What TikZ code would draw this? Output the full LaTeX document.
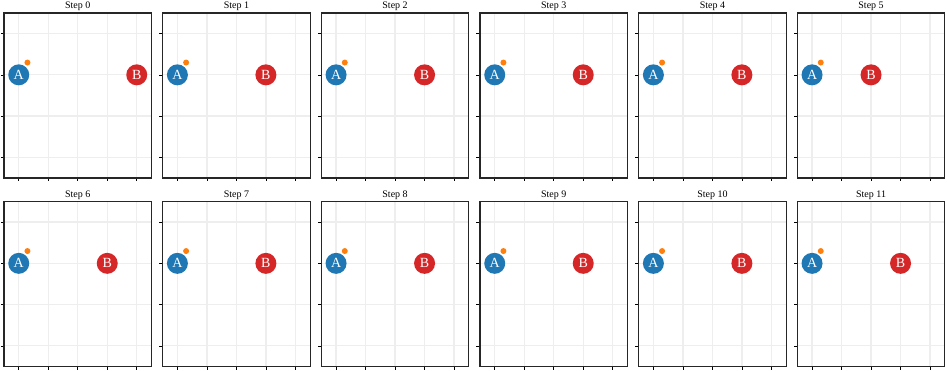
\documentclass[tikz,border=0pt]{standalone}
\usepackage{fontspec}
\setmainfont{Liberation Serif}
\usetikzlibrary{positioning}
\definecolor{stBlue}{HTML}{1F77B4}
\definecolor{stRed}{HTML}{D62728}
\definecolor{stOrange}{HTML}{FF7F0E}
\definecolor{stGrid}{HTML}{EEEEEE}
\tikzset{
  stframe/.style={draw=black!85, line width=1.3pt},
  stgrid/.style={draw=stGrid, line width=1.2pt},
  sttick/.style={draw=black, line width=0.6pt},
  stagent/.style={circle, minimum size=21pt, inner sep=0pt, text=white,
                  font=\fontsize{14}{14}\selectfont},
  stgoal/.style={circle, minimum size=6pt, inner sep=0pt, fill=stOrange},
  sttitle/.style={font=\fontsize{10}{12}\selectfont, anchor=base, yshift=4pt},
}

\begin{document}
\begin{tikzpicture}[x=1pt, y=1pt]
  \useasboundingbox (0,0) rectangle (947,371);
  % one panel per step: step / column of agent B
  \foreach \s/\b in {0/4,1/3,2/3,3/3,4/3,5/2,6/3,7/3,8/3,9/3,10/3,11/3}{
    \pgfmathtruncatemacro\col{mod(\s,6)}
    \pgfmathtruncatemacro\row{div(\s,6)}
    \begin{scope}[shift={(4+158.66*\col, 358-188.5*\row)}]
    \begin{scope}[shift={(14.75,-20.6)}, x=29.5pt, y=-41.25pt]
      \foreach \gx in {0,...,4}{
        \draw[stgrid] (\gx,-0.5) -- (\gx,3.5);
        \draw[sttick] (\gx,3.5) -- ++(0pt,-3.5pt);
      }
      \foreach \gy in {0,...,3}{
        \draw[stgrid] (-0.5,\gy) -- (4.5,\gy);
        \draw[sttick] (-0.5,\gy) -- ++(-3.5pt,0pt);
      }
      \draw[stframe] (-0.5,-0.5) rectangle (4.5,3.5);
      \node[sttitle] (t\s) at (2,-0.5) {Step \s};
      \node[stagent, fill=stBlue] (A\s) at (0,1) {A};
      \node[stagent, fill=stRed] (B\s) at (\b,1) {B};
      \node[stgoal] (g\s) at ([shift={(8.7pt,12.3pt)}]A\s.center) {};
    \end{scope}
    \end{scope}
  }
\end{tikzpicture}
\end{document}
